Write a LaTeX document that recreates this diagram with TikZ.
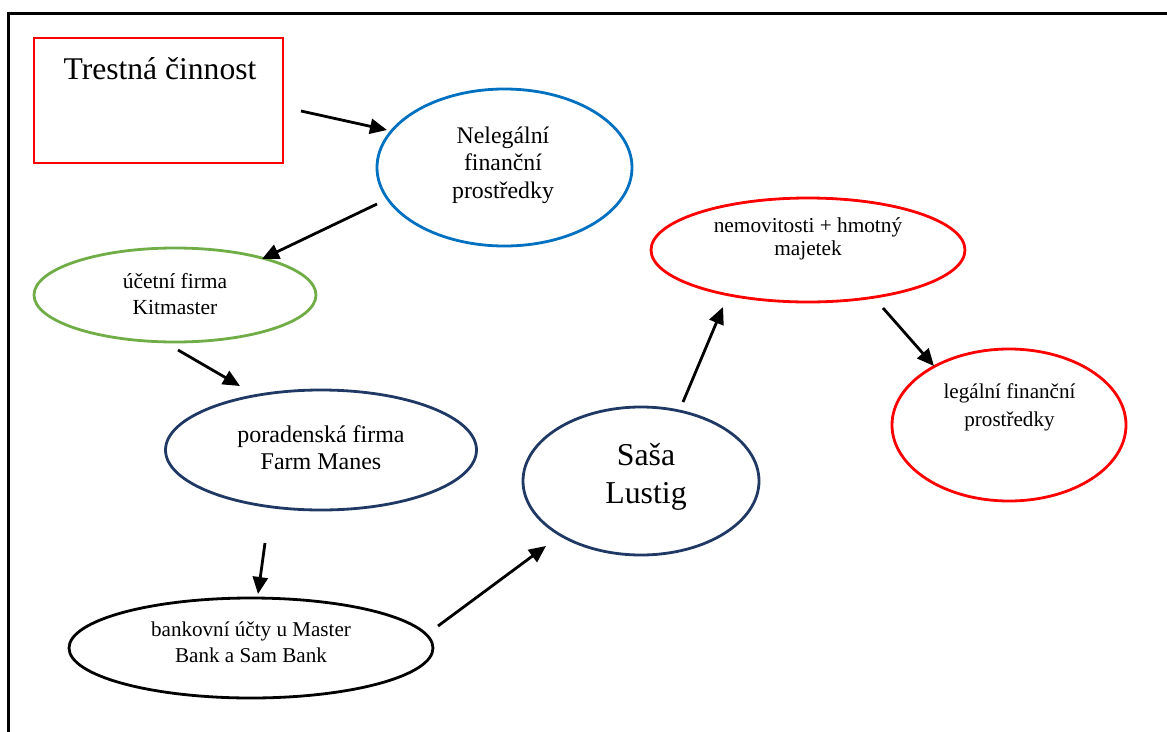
\documentclass[tikz,border=0pt]{standalone}
\usepackage{fontspec}
\setmainfont{Liberation Serif}
\usetikzlibrary{shapes.geometric,arrows.meta}
\definecolor{wblue}{HTML}{0070C0}
\definecolor{wgreen}{HTML}{70AD47}
\definecolor{wnavy}{HTML}{1F3864}
\definecolor{wred}{HTML}{FF0000}
\tikzset{
  ell/.style={ellipse, draw, line width=2.8pt, inner sep=0pt},
  txt/.style={align=center, inner sep=0pt, anchor=center},
  arr/.style={line width=2.8pt, -{Triangle[length=17pt,width=15pt]}},
  frame/.style={line width=3pt}
}
\begin{document}
\begin{tikzpicture}[x=1pt,y=-1pt]
\useasboundingbox (0,0) rectangle (1167,731);
% outer frame
\coordinate (fA) at (8,733);
\coordinate (fB) at (8,13);
\coordinate (fC) at (1169,13);
\draw[frame] (fA) -- (fB) -- (fC);

% red rectangle
\node[draw=wred, line width=2.8pt, minimum width=249pt, minimum height=125pt, inner sep=0pt] (tc) at (158.5,100.5) {};
\node[txt, anchor=base, font=\fontsize{31.6}{36}\selectfont] (tcT) at (160,79) {Trestná činnost};

% ellipses
\node[ell, draw=wblue, minimum width=255pt, minimum height=157pt] (nel) at (504.5,167.5) {};
\node[txt, font=\fontsize{23.8}{27.5}\selectfont] (nelT) at (503,165) {Nelegální\\finanční\\prostředky};

\node[ell, draw=wgreen, minimum width=282pt, minimum height=94pt] (uct) at (175,295) {};
\node[txt, font=\fontsize{21.5}{26}\selectfont] (uctT) at (175,293.6) {účetní firma\\Kitmaster};

\node[ell, draw=wnavy, minimum width=311pt, minimum height=120pt] (por) at (321,450) {};
\node[txt, font=\fontsize{24}{27}\selectfont] (porT) at (321,447.2) {poradenská firma\\Farm Manes};

\node[ell, draw=black, minimum width=364pt, minimum height=100pt] (ban) at (251,648) {};
\node[txt, font=\fontsize{21.1}{26}\selectfont] (banT) at (251,642.7) {bankovní účty u Master\\Bank a Sam Bank};

\node[ell, draw=wnavy, minimum width=236pt, minimum height=148pt] (sas) at (641,481) {};
\node[txt, font=\fontsize{31.8}{38}\selectfont] (sasT) at (646,477) {Saša\\Lustig};

\node[ell, draw=wred, minimum width=314pt, minimum height=104pt] (nem) at (808,250) {};
\node[txt, font=\fontsize{21.3}{23}\selectfont] (nemT) at (808,238.5) {nemovitosti + hmotný\\majetek};

\node[ell, draw=wred, minimum width=234pt, minimum height=152pt] (leg) at (1009,425) {};
\node[txt, font=\fontsize{21.1}{28}\selectfont] (legT) at (1009.5,407) {legální finanční\\prostředky};

% arrow end points (arrows float between the shapes)
\coordinate (a1s) at (301,111);   \coordinate (a1e) at (387,130);
\coordinate (a2s) at (377,204);   \coordinate (a2e) at (262,259);
\coordinate (a3s) at (178,350);   \coordinate (a3e) at (240,386);
\coordinate (a4s) at (265,543);   \coordinate (a4e) at (258,594);
\coordinate (a5s) at (438,626);   \coordinate (a5e) at (546,546);
\coordinate (a6s) at (683,402);   \coordinate (a6e) at (723,307);
\coordinate (a7s) at (883,308);   \coordinate (a7e) at (934,366);

\draw[arr] (a1s) -- (a1e);
\draw[arr] (a2s) -- (a2e);
\draw[arr] (a3s) -- (a3e);
\draw[arr] (a4s) -- (a4e);
\draw[arr] (a5s) -- (a5e);
\draw[arr] (a6s) -- (a6e);
\draw[arr] (a7s) -- (a7e);
\end{tikzpicture}
\end{document}
